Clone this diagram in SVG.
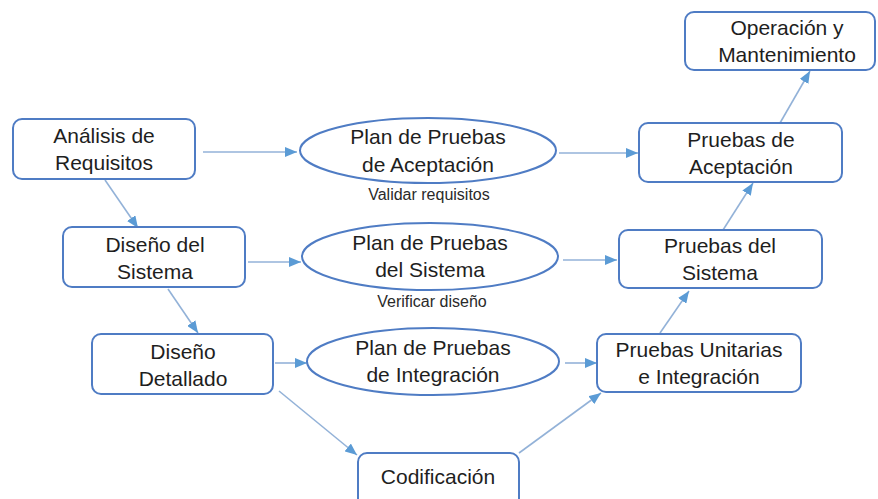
<svg xmlns="http://www.w3.org/2000/svg" width="878" height="499" viewBox="0 0 878 499">
<style>
.box{fill:#fff;stroke:#4F7CC4;stroke-width:2}
.ell{fill:#fff;stroke:#4F7CC4;stroke-width:2}
.t{font-family:"Liberation Sans",Arial,sans-serif;font-size:21px;fill:#1e1e1e;text-anchor:middle}
.s{font-family:"Liberation Sans",Arial,sans-serif;font-size:16px;fill:#2a2a2a;text-anchor:middle}
.c{stroke:#93B2D8;stroke-width:1.6;fill:none;marker-end:url(#ah)}
</style>
<defs>
<marker id="ah" markerUnits="userSpaceOnUse" markerWidth="12" markerHeight="10" viewBox="0 0 12 10" refX="12" refY="5" orient="auto">
<path d="M0,0 L12,5 L0,10 Z" fill="#5B9BD5"/>
</marker>
</defs>
<rect width="878" height="499" fill="#fff"/>
<g id="connectors">
<line class="c" x1="203" y1="152" x2="297" y2="152"/>
<line class="c" x1="105" y1="180" x2="138" y2="228"/>
<line class="c" x1="248" y1="262" x2="301" y2="262"/>
<line class="c" x1="168" y1="289" x2="198" y2="333"/>
<line class="c" x1="275" y1="363" x2="307" y2="363"/>
<line class="c" x1="279" y1="391" x2="357" y2="455"/>
<line class="c" x1="559" y1="153" x2="638" y2="153"/>
<line class="c" x1="563" y1="260" x2="617" y2="260"/>
<line class="c" x1="565" y1="363" x2="597" y2="363"/>
<line class="c" x1="519" y1="453" x2="601" y2="393"/>
<line class="c" x1="660" y1="333" x2="689" y2="291"/>
<line class="c" x1="723" y1="230" x2="753" y2="183"/>
<line class="c" x1="780" y1="123" x2="810" y2="71"/>
</g>
<g id="analisis">
<rect class="box" x="13" y="119" width="182" height="60" rx="9"/>
<text class="t" x="104" y="143">Análisis de</text>
<text class="t" x="104" y="170">Requisitos</text>
</g>
<g id="diseno-sistema">
<rect class="box" x="63" y="227" width="182" height="60" rx="9"/>
<text class="t" x="155" y="252">Diseño del</text>
<text class="t" x="155" y="279">Sistema</text>
</g>
<g id="diseno-detallado">
<rect class="box" x="92" y="334" width="181" height="60" rx="9"/>
<text class="t" x="183" y="359">Diseño</text>
<text class="t" x="183" y="386">Detallado</text>
</g>
<g id="codificacion">
<rect class="box" x="358" y="453" width="161" height="60" rx="9"/>
<text class="t" x="438" y="484">Codificación</text>
</g>
<g id="plan-aceptacion">
<ellipse class="ell" cx="428" cy="150.5" rx="128" ry="32.5"/>
<text class="t" x="428" y="144">Plan de Pruebas</text>
<text class="t" x="428" y="172">de Aceptación</text>
<text class="s" x="429" y="200">Validar requisitos</text>
</g>
<g id="plan-sistema">
<ellipse class="ell" cx="430" cy="256.5" rx="128" ry="33.5"/>
<text class="t" x="430" y="250">Plan de Pruebas</text>
<text class="t" x="430" y="277">del Sistema</text>
<text class="s" x="432" y="307">Verificar diseño</text>
</g>
<g id="plan-integracion">
<ellipse class="ell" cx="433" cy="361.5" rx="126" ry="33.5"/>
<text class="t" x="433" y="355">Plan de Pruebas</text>
<text class="t" x="433" y="382">de Integración</text>
</g>
<g id="pruebas-unitarias">
<rect class="box" x="597" y="334" width="204" height="58" rx="9"/>
<text class="t" x="699" y="357">Pruebas Unitarias</text>
<text class="t" x="699" y="384">e Integración</text>
</g>
<g id="pruebas-sistema">
<rect class="box" x="619" y="230" width="203" height="58" rx="9"/>
<text class="t" x="720" y="253">Pruebas del</text>
<text class="t" x="720" y="280">Sistema</text>
</g>
<g id="pruebas-aceptacion">
<rect class="box" x="639" y="123" width="203" height="59" rx="9"/>
<text class="t" x="741" y="147">Pruebas de</text>
<text class="t" x="741" y="174">Aceptación</text>
</g>
<g id="operacion">
<rect class="box" x="685" y="12" width="190" height="58" rx="9"/>
<text class="t" x="787" y="35">Operación y</text>
<text class="t" x="787" y="62">Mantenimiento</text>
</g>
</svg>
